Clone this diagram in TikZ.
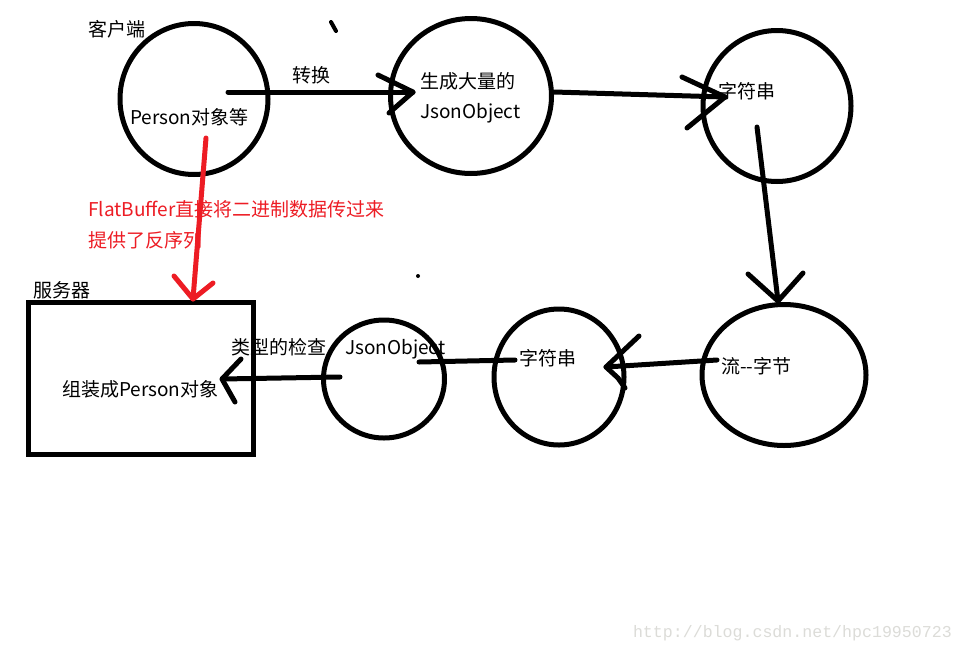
\documentclass[tikz,border=0pt]{standalone}
\usepackage{fontspec}
\setmainfont{Noto Sans CJK SC}
\newfontfamily\wmfont{Liberation Mono}
\usetikzlibrary{shapes.geometric}
\definecolor{inkred}{RGB}{237,28,36}
\definecolor{wmgray}{RGB}{220,220,216}
\tikzset{
  ring/.style={draw, ellipse, line width=5pt, inner sep=0pt},
  conn/.style={line width=5pt, line cap=round, line join=round},
  redconn/.style={conn, draw=inkred},
  lbl/.style={anchor=west, inner sep=0pt, font=\fontsize{19}{23}\selectfont},
  redlbl/.style={lbl, text=inkred},
}
\begin{document}
\begin{tikzpicture}[x=1pt,y=-1pt]
\useasboundingbox[fill=white] (0,0) rectangle (964,654);

% shapes
\node[ring, minimum width=148, minimum height=151] (c1) at (194,99) {};
\node[ring, minimum width=161, minimum height=155] (c2) at (471,96) {};
\node[ring, minimum width=148, minimum height=151] (c3) at (777,106) {};
\node[ring, minimum width=164, minimum height=141] (c4) at (784,375) {};
\node[ring, minimum width=130, minimum height=136] (c5) at (559,377) {};
\node[ring, minimum width=121, minimum height=118] (c6) at (384,379) {};
\node[draw, line width=5pt, minimum width=225, minimum height=152, inner sep=0pt] (srv) at (140.5,378) {};

% labels
\node[lbl] (tclient) at (88,29) {客户端};
\node[lbl] (tperson) at (130,117) {Person对象等};
\node[lbl] (tconv) at (292,75) {转换};
\node[lbl] (tgen) at (420,81) {生成大量的};
\node[lbl] (tjson1) at (420,113) {JsonObject};
\node[lbl] (tstr1) at (718,91) {字符串};
\node[lbl] (tstream) at (721,366) {流-{}-字节};
\node[lbl] (tstr2) at (519,358) {字符串};
\node[lbl] (tjson2) at (345,349) {JsonObject};
\node[lbl] (tcheck) at (231,347) {类型的检查};
\node[lbl] (tassemble) at (62,389) {组装成Person对象};
\node[lbl] (tserver) at (33,290) {服务器};
\node[redlbl] (tred1) at (88,209) {FlatBuffer直接将二进制数据传过来};
\node[redlbl] (tred2) at (88,240) {提供了反序列};
\node[anchor=east, inner sep=0pt, text=wmgray, font=\wmfont\fontsize{16.6}{18}\selectfont] (wm) at (952,633) {http://blog.csdn.net/hpc19950723};

% connector end points
\coordinate (a1s) at (228,92);
\coordinate (a1t) at (413,92);
\coordinate (a2s) at (554,92);
\coordinate (a2t) at (725,97);
\coordinate (a3s) at (757,127);
\coordinate (a3t) at (778,301);
\coordinate (a4s) at (717,360);
\coordinate (a4t) at (606,367);
\coordinate (l5s) at (515,360);
\coordinate (l5t) at (419,362);
\coordinate (a6s) at (340,377);
\coordinate (a6t) at (222,379);
\coordinate (ars) at (206,138);
\coordinate (art) at (193,299);

% connectors
\draw[conn] (a1s) -- (a1t);
\draw[conn] (378,75) -- (a1t) -- (389,113);
\draw[conn] (a2s) -- (a2t);
\draw[conn] (682,77) -- (a2t) -- (687,128);
\draw[conn] (a3s) -- (a3t);
\draw[conn] (748,274) -- (a3t) -- (803,273);
\draw[conn] (a4s) -- (a4t);
\draw[conn] (639,336) -- (a4t) -- (618,378) -- (625,388);
\draw[conn] (l5s) -- (l5t);
\draw[conn] (a6s) -- (a6t);
\draw[conn] (241,359) -- (a6t) -- (235,402);
\draw[redconn] (ars) -- (art);
\draw[redconn] (174,276) -- (art) -- (213,283);

% stray marks
\draw[conn, line width=4pt] (331,22) -- (336,31);
\fill (418,276) circle (2pt);
\end{tikzpicture}
\end{document}
